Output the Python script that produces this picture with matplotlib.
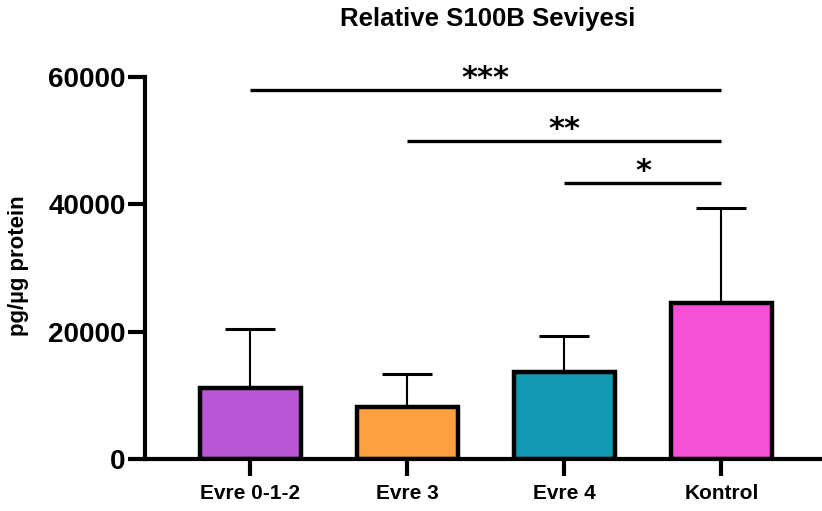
from matplotlib import pyplot as plt
import numpy as np

plt.rcParams['font.family'] = ['Liberation Sans', 'DejaVu Sans']
plt.rcParams['font.weight'] = 'bold'

groups = ['Evre 0-1-2', 'Evre 3', 'Evre 4', 'Kontrol']
means = [11100, 8150, 13650, 24550]
sd_upper = [9350, 5250, 5650, 14900]
colors = ['#b856d6', '#ffa040', '#129ab4', '#f650d8']

# significance brackets: (from group, to group, level, label)
sig_from = [0, 1, 2]
sig_to = [3, 3, 3]
sig_level = [58000, 50000, 43300]
sig_label = ['***', '**', '*']

fig = plt.figure(figsize=(8.22, 5.11), dpi=100)
ax = fig.add_axes([0.1764, 0.1018, 0.8236, 0.7472])

x = np.arange(len(groups))
ax.errorbar(x, means, yerr=[np.zeros(len(means)), sd_upper], fmt='none',
            ecolor='black', elinewidth=1.5, capsize=18, capthick=2.2, zorder=1)
ax.bar(x, means, width=0.64, color=colors, edgecolor='black',
       linewidth=3.2, zorder=2)

for a, b, lvl, lab in zip(sig_from, sig_to, sig_level, sig_label):
    ax.plot([x[a], x[b]], [lvl, lvl], color='black', linewidth=2.4,
            solid_capstyle='butt', clip_on=False)
    ax.text((x[a] + x[b]) / 2, lvl + 500, lab, ha='center', va='baseline',
            fontsize=22, fontweight='bold', family='DejaVu Sans')

ax.set_xlim(-0.67, 3.64)
ax.set_ylim(0, 60000)
ax.set_yticks([0, 20000, 40000, 60000])
ax.set_xticks(x)
ax.set_xticklabels(groups, fontsize=15, fontweight='bold')
ax.tick_params(axis='y', labelsize=20, width=3, length=12, pad=2)
ax.tick_params(axis='x', width=3, length=12, pad=6)
for lab in ax.get_yticklabels():
    lab.set_fontweight('bold')

for side in ['top', 'right']:
    ax.spines[side].set_visible(False)
for side in ['left', 'bottom']:
    ax.spines[side].set_linewidth(3)

ax.set_ylabel('pg/µg protein', fontsize=16, fontweight='bold')
ax.yaxis.set_label_coords(-0.172, 0.505)
fig.text(0.593, 0.962, 'Relative S100B Seviyesi', ha='center', va='center',
         fontsize=18.5, fontweight='bold')

fig.savefig('out.png', dpi=100)
